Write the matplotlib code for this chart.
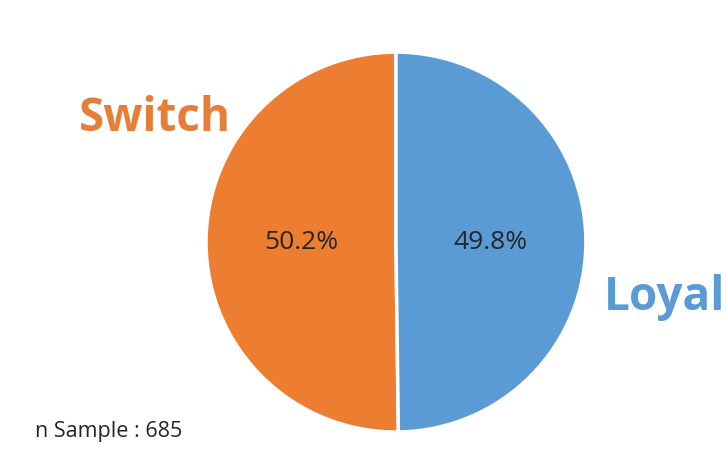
import matplotlib
matplotlib.use('Agg')
import matplotlib.pyplot as plt

plt.rcParams['font.family'] = ['Open Sans', 'DejaVu Sans']

# 数据
labels = ['Switch', 'Loyal']
shares = [50.2, 49.8]
colors = ['#ED7D31', '#5B9BD5']
label_colors = ['#E57E36', '#5B9BD5']
n_sample = 685

fig = plt.figure(figsize=(7.26, 4.61), dpi=100)
ax = fig.add_axes([0.2837, 0.0629, 0.5234, 0.824])
wedges, texts = ax.pie(shares, colors=colors, startangle=90, counterclock=True,
                       wedgeprops=dict(edgecolor='white', linewidth=2.5))
ax.set_xlim(-1.0, 1.0)
ax.set_ylim(-1.0, 1.0)
ax.set_aspect('equal')

# 百分比标签
ax.text(-0.5, 0.0, f'{shares[0]:.1f}%', ha='center', va='center', fontsize=19, color='#262626')
ax.text(0.5, 0.0, f'{shares[1]:.1f}%', ha='center', va='center', fontsize=19, color='#262626')

# 类别标签
fig.text(0.2135, 0.744, labels[0], ha='center', va='center', fontsize=33,
         fontweight='bold', color=label_colors[0])
fig.text(0.916, 0.354, labels[1], ha='center', va='center', fontsize=33,
         fontweight='bold', color=label_colors[1])

fig.text(0.048, 0.063, f'n Sample : {n_sample}', ha='left', va='center',
         fontsize=15.5, color='#262626')

fig.savefig('out.png', dpi=100, facecolor='white')
